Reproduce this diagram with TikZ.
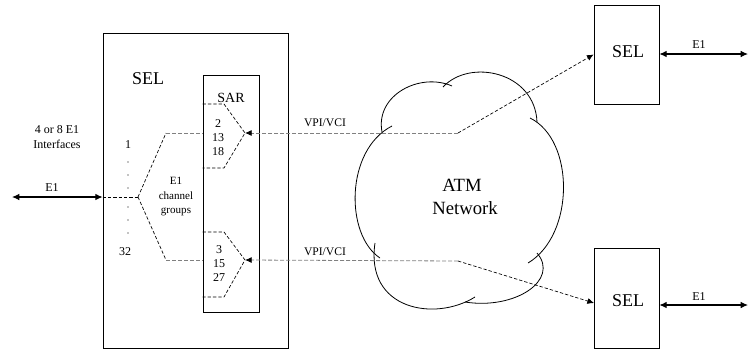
\documentclass[tikz,border=0pt]{standalone}
\usepackage{fontspec}
\setmainfont{Liberation Serif}
\usetikzlibrary{arrows.meta,calc}
\begin{document}
\begin{tikzpicture}[x=0.75pt,y=-0.75pt,
  box/.style={draw, line width=0.6pt, inner sep=0pt},
  gdash/.style={draw=gray, line width=0.6pt, dash pattern=on 3pt off 1.5pt},
  bdash/.style={draw=black, line width=0.5pt, dash pattern=on 2.5pt off 1.5pt},
  tipend/.style={-{Latex[length=5pt,width=4.5pt,color=black]}},
  dbl/.style={line width=0.8pt, {Latex[length=5.5pt,width=5pt]}-{Latex[length=5.5pt,width=5pt]}},
  txt/.style={inner sep=0pt, align=center, font=\fontsize{9}{11}\selectfont},
  big/.style={inner sep=0pt, align=center, font=\fontsize{13.5}{17}\selectfont},
  cloudline/.style={line width=0.6pt}
]
\useasboundingbox (0,0) rectangle (749,354);
% boxes
\node[box, minimum width=138.75pt, minimum height=236.25pt] (sel) at (195.5,190.5) {};
\node[box, minimum width=42pt, minimum height=177.75pt] (sar) at (231,193.5) {};
\node[box, minimum width=48.75pt, minimum height=74.25pt] (selt) at (626.5,54.5) {};
\node[box, minimum width=48.75pt, minimum height=75pt] (selb) at (626.5,298) {};
% labels
\node[big] (selname) at (148,79) {SEL};
\node[txt, font=\fontsize{10.5}{12}\selectfont] (sarname) at (231,98) {SAR};
\node[big] (seltname) at (628,52) {SEL};
\node[big] (selbname) at (628,301) {SEL};
\node[txt, font=\fontsize{9}{10.5}\selectfont] (nup) at (218,138) {2\\13\\18};
\node[txt, font=\fontsize{9}{10.5}\selectfont] (ndn) at (219,264) {3\\15\\27};
\node[txt, font=\fontsize{9}{11.25}\selectfont] (ifc) at (57,137) {4 or 8 E1\\Interfaces};
\node[txt] (one) at (128,145) {1};
\node[txt] (thirtytwo) at (125,252) {32};
\node[txt] (e1lab) at (52,188) {E1};
\node[txt, font=\fontsize{8.3}{10.9}\selectfont] (grp) at (176,197) {E1\\channel\\groups};
\node[txt, font=\fontsize{8.7}{10}\selectfont] (vpiup) at (325,123) {VPI/VCI};
\node[txt, font=\fontsize{8.7}{10}\selectfont] (vpidn) at (325,252) {VPI/VCI};
\node[txt, font=\fontsize{14}{17}\selectfont] (atm) at (462,185) {ATM};
\node[txt, font=\fontsize{14}{17}\selectfont] (net) at (465,208) {Network};
\node[txt] (e1t) at (699,45) {E1};
\node[txt] (e1b) at (699,297) {E1};
% dots
\foreach \yy in {162,175,188,207,220,233} \fill (128,\yy) circle (0.7);
% cloud
\draw[cloudline] (392,126) .. controls (345,150) and (345,235) .. (380,258);
\draw[cloudline] (375,243) .. controls (365,310) and (435,322) .. (475,297);
\draw[cloudline] (465,302) .. controls (515,310) and (560,280) .. (537,253);
\draw[cloudline] (528,263) .. controls (575,235) and (575,140) .. (530,118);
\draw[cloudline] (537,122) .. controls (535,72) and (470,58) .. (443,87);
\draw[cloudline] (382,132) .. controls (375,95) and (420,72) .. (452,86);
% coordinates
\coordinate (fork) at (138,197);
\coordinate (lup) at (166,133);
\coordinate (ldn) at (166,260);
\coordinate (e1l) at (12,197);
\coordinate (m1a) at (224,104);
\coordinate (apx1) at (245,133);
\coordinate (m1b) at (224,168);
\coordinate (m2a) at (224,232);
\coordinate (apx2) at (245,260);
\coordinate (m2b) at (224,297);
\coordinate (bend1) at (458,133);
\coordinate (bend2) at (458,261);
\coordinate (tipb) at (594,303);
\coordinate (e1tr) at (748,54);
\coordinate (e1br) at (748,305);
% left E1
\draw[dbl] (e1l) -- (sel.west |- fork);
\draw[bdash, line width=0.7pt] (sel.west |- fork) -- (fork);
\draw[bdash] (fork) -- (lup);
\draw[bdash] (fork) -- (ldn);
\draw[gdash] (lup) -- (sar.west |- lup);
\draw[gdash] (ldn) -- (sar.west |- ldn);
% muxes
\draw[bdash] (sar.west |- m1a) -- (m1a) -- (apx1) -- (m1b) -- (sar.west |- m1b);
\draw[bdash] (sar.west |- m2a) -- (m2a) -- (apx2) -- (m2b) -- (sar.west |- m2b);
% VPI/VCI paths
\draw[gdash, tipend] (bend1) -- (apx1);
\draw[gdash, tipend] (bend2) -- (apx2);
\draw[bdash, tipend] (bend1) -- (selt.west);
\draw[bdash, tipend] (bend2) -- (tipb);
% right E1
\draw[dbl] (selt.east |- e1tr) -- (e1tr);
\draw[dbl] (selb.east |- e1br) -- (e1br);
\end{tikzpicture}
\end{document}
